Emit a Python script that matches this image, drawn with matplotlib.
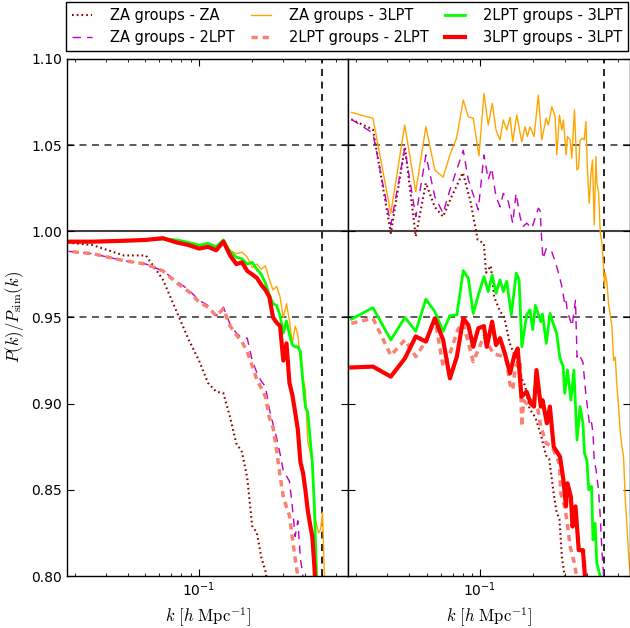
import matplotlib
matplotlib.use('Agg')
import matplotlib.pyplot as plt
import matplotlib.ticker as mticker

plt.rcParams['mathtext.fontset'] = 'cm'
plt.rcParams['lines.scale_dashes'] = False

# ---- left panel: k bins (h/Mpc) and ratios P(k)/P_sim(k) ----
k_left = [0.0126, 0.0251, 0.0377, 0.0503, 0.0628, 0.0754, 0.0880, 0.1005, 0.1131,
          0.1257, 0.1382, 0.1508, 0.1634, 0.1759, 0.1885, 0.2011, 0.2136, 0.2262,
          0.2388, 0.2513, 0.2639, 0.2765, 0.2890, 0.3016, 0.3142, 0.3267, 0.3393,
          0.3519, 0.3644, 0.3770, 0.3896, 0.4021, 0.4147, 0.4273, 0.4398, 0.4524,
          0.4650, 0.4775, 0.4901, 0.5027, 0.5152, 0.5278]

za_za_left = [0.995, 0.992, 0.986, 0.986, 0.972, 0.953, 0.937, 0.925, 0.912, 0.907,
              0.906, 0.892, 0.877, 0.872, 0.857, 0.829, 0.825, 0.811, 0.803, 0.790]
za_2lpt_left = [0.990, 0.987, 0.983, 0.981, 0.977, 0.971, 0.966, 0.960, 0.957, 0.951,
                0.956, 0.946, 0.941, 0.938, 0.938, 0.925, 0.918, 0.913, 0.910, 0.897,
                0.888, 0.880, 0.871, 0.861, 0.858, 0.855, 0.840, 0.823, 0.832, 0.810,
                0.800, 0.780]
za_3lpt_left = [0.994, 0.994, 0.9945, 0.995, 0.996, 0.995, 0.9935, 0.992, 0.993, 0.991,
                0.995, 0.989, 0.987, 0.988, 0.985, 0.979, 0.981, 0.978, 0.980, 0.972,
                0.966, 0.968, 0.962, 0.950, 0.958, 0.948, 0.935, 0.945, 0.940, 0.925,
                0.915, 0.908, 0.878, 0.872, 0.866, 0.835, 0.830, 0.825, 0.827, 0.837,
                0.800, 0.780]
lpt2_2lpt_left = [0.990, 0.987, 0.983, 0.981, 0.977, 0.970, 0.965, 0.959, 0.956, 0.951,
                  0.955, 0.945, 0.940, 0.936, 0.930, 0.922, 0.914, 0.909, 0.904, 0.892,
                  0.886, 0.873, 0.858, 0.846, 0.840, 0.835, 0.822, 0.810, 0.800, 0.780]
lpt2_3lpt_left = [0.994, 0.994, 0.9945, 0.995, 0.9955, 0.995, 0.9935, 0.992, 0.993, 0.991,
                  0.995, 0.988, 0.985, 0.984, 0.981, 0.982, 0.978, 0.975, 0.970, 0.963,
                  0.958, 0.957, 0.951, 0.941, 0.948, 0.940, 0.934, 0.933, 0.933, 0.930,
                  0.912, 0.898, 0.895, 0.880, 0.866, 0.840, 0.800, 0.770]
lpt3_3lpt_left = [0.994, 0.994, 0.9945, 0.995, 0.996, 0.9935, 0.992, 0.990, 0.991, 0.989,
                  0.994, 0.986, 0.981, 0.982, 0.977, 0.975, 0.973, 0.969, 0.966, 0.962,
                  0.950, 0.947, 0.945, 0.925, 0.935, 0.912, 0.905, 0.895, 0.885, 0.866,
                  0.860, 0.850, 0.838, 0.830, 0.823, 0.805, 0.780]

# ---- right panel: (k, ratio) read per curve ----
k_za_za_right = [0.0188, 0.0249, 0.0314, 0.0377, 0.0434, 0.0495, 0.0556, 0.0619, 0.069,
                 0.080, 0.088, 0.097, 0.105, 0.108, 0.115, 0.120, 0.129, 0.137, 0.147,
                 0.161, 0.171, 0.180, 0.190, 0.205, 0.220, 0.235, 0.245, 0.260, 0.270,
                 0.280, 0.290, 0.300, 0.310]
za_za_right = [1.065, 1.059, 0.999, 1.049, 0.997, 1.028, 1.014, 1.0085, 1.020,
               1.034, 1.018, 0.995, 0.993, 0.976, 0.980, 0.962, 0.954, 0.950, 0.935,
               0.925, 0.915, 0.910, 0.897, 0.892, 0.882, 0.870, 0.868, 0.848, 0.837,
               0.833, 0.810, 0.800, 0.780]

k_za_2lpt_right = [0.0188, 0.0249, 0.0314, 0.0376, 0.0434, 0.0495, 0.0556, 0.0619, 0.0676,
                   0.0804, 0.0858, 0.0977, 0.1052, 0.1112, 0.1162, 0.123, 0.1296, 0.1352,
                   0.1443, 0.1528, 0.1595, 0.168, 0.174, 0.1834, 0.1957, 0.2131, 0.218,
                   0.222, 0.226, 0.236, 0.252, 0.262, 0.271, 0.280, 0.289, 0.300, 0.305,
                   0.310, 0.330, 0.345, 0.352, 0.360, 0.380, 0.395, 0.415, 0.425, 0.433,
                   0.440, 0.450, 0.465, 0.475, 0.486, 0.497, 0.505]
za_2lpt_right = [1.065, 1.057, 1.0037, 1.048, 1.0085, 1.0443, 1.020, 1.0105, 1.024,
                 1.047, 1.030, 1.0124, 1.0443, 1.030, 1.0366, 1.020, 1.0143, 1.022,
                 1.0172, 1.0047, 1.022, 1.0085, 1.0027, 1.0047, 1.0018, 1.0134, 1.012,
                 0.997, 0.984, 0.990, 0.989, 0.984, 0.979, 0.974, 0.968, 0.958, 0.960,
                 0.954, 0.945, 0.960, 0.927, 0.929, 0.924, 0.905, 0.887, 0.889, 0.883,
                 0.867, 0.862, 0.850, 0.836, 0.815, 0.800, 0.780]

k_za_3lpt_right = [0.0188, 0.0249, 0.0314, 0.0376, 0.0434, 0.0495, 0.0556, 0.0619, 0.0676,
                   0.0737, 0.0804, 0.0858, 0.0915, 0.0986, 0.1052, 0.1112, 0.1172, 0.123,
                   0.1296, 0.1352, 0.1413, 0.1476, 0.1528, 0.161, 0.1717, 0.1793, 0.1847,
                   0.1913, 0.2016, 0.2131, 0.2228, 0.2356, 0.2428, 0.2537, 0.265, 0.2708,
                   0.280, 0.289, 0.295, 0.3056, 0.311, 0.3219, 0.329, 0.3405, 0.3513,
                   0.3587, 0.3667, 0.3778, 0.3863, 0.395, 0.4032, 0.4123, 0.4216, 0.4304,
                   0.440, 0.4498, 0.4558, 0.4653, 0.4756, 0.4863, 0.4966, 0.5028, 0.5077,
                   0.519, 0.530, 0.5537, 0.5656, 0.578, 0.591, 0.6035, 0.617, 0.631,
                   0.644, 0.6586, 0.673, 0.687, 0.703]
za_3lpt_right = [1.069, 1.0656, 1.0105, 1.0617, 1.023, 1.0607, 1.0356, 1.0314, 1.0443,
                 1.054, 1.0762, 1.0665, 1.0656, 1.0437, 1.080, 1.0617, 1.0743, 1.0588,
                 1.053, 1.0646, 1.0588, 1.0662, 1.052, 1.0675, 1.052, 1.0607, 1.055,
                 1.0607, 1.055, 1.0791, 1.053, 1.0656, 1.0617, 1.0723, 1.0665, 1.0443,
                 1.0675, 1.0588, 1.0646, 1.0443, 1.055, 1.053, 1.0424, 1.0704, 1.0356,
                 1.0366, 1.053, 1.054, 1.053, 1.0636, 1.0346, 1.0163, 1.0337, 1.0414,
                 1.0037, 1.0433, 1.0279, 1.023, 0.9998, 0.993, 0.9795, 0.968, 0.9757,
                 0.970, 0.958, 0.9447, 0.925, 0.927, 0.910, 0.898, 0.883, 0.875,
                 0.869, 0.844, 0.829, 0.813, 0.800]

k_lpt2_2lpt_right = [0.0188, 0.0249, 0.0314, 0.0377, 0.0434, 0.050, 0.0556, 0.0619, 0.0676,
                     0.075, 0.0804, 0.0915, 0.105, 0.119, 0.1352, 0.1408, 0.1476, 0.153,
                     0.158, 0.168, 0.172, 0.176, 0.183, 0.195, 0.212, 0.220, 0.236, 0.255,
                     0.280, 0.285, 0.300, 0.310, 0.322, 0.340, 0.350, 0.360]
lpt2_2lpt_right = [0.9466, 0.9495, 0.928, 0.937, 0.9273, 0.937, 0.9495, 0.9215, 0.929,
                   0.943, 0.9466, 0.9244, 0.939, 0.929, 0.9273, 0.925, 0.911, 0.908,
                   0.9215, 0.9254, 0.8867, 0.902, 0.900, 0.902, 0.8964, 0.8867, 0.877, 0.875,
                   0.8653, 0.848, 0.840, 0.8306, 0.817, 0.8074, 0.800, 0.780]

k_lpt2_3lpt_right = [0.0188, 0.0249, 0.0314, 0.0377, 0.0434, 0.0495, 0.0556, 0.0619, 0.0676,
                     0.074, 0.0804, 0.0858, 0.0915, 0.0977, 0.1052, 0.1112, 0.117, 0.123,
                     0.1296, 0.1352, 0.1413, 0.150, 0.160, 0.166, 0.172, 0.183, 0.191,
                     0.198, 0.205, 0.220, 0.225, 0.236, 0.248, 0.258, 0.270, 0.282, 0.294,
                     0.300, 0.311, 0.325, 0.338, 0.352, 0.366, 0.380, 0.388, 0.400, 0.410,
                     0.425, 0.433, 0.445, 0.455, 0.475, 0.480]
lpt2_3lpt_right = [0.949, 0.9557, 0.937, 0.950, 0.942, 0.9606, 0.9534, 0.942, 0.951,
                   0.9515, 0.9772, 0.9728, 0.9524, 0.963, 0.9737, 0.965, 0.9747, 0.964,
                   0.9718, 0.965, 0.971, 0.9515, 0.9757, 0.9718, 0.933, 0.9515, 0.9544,
                   0.943, 0.957, 0.9476, 0.952, 0.935, 0.9524, 0.9466, 0.941, 0.9263, 0.9215,
                   0.906, 0.9195, 0.902, 0.9195, 0.8789, 0.8983, 0.8886, 0.8712, 0.867, 0.850,
                   0.852, 0.821, 0.8306, 0.8074, 0.800, 0.780]

k_lpt3_3lpt_right = [0.0188, 0.0249, 0.0314, 0.0377, 0.0434, 0.0495, 0.0556, 0.0619, 0.0676,
                     0.074, 0.0804, 0.0858, 0.0915, 0.0977, 0.1052, 0.109, 0.117, 0.123,
                     0.1296, 0.138, 0.1476, 0.156, 0.163, 0.171, 0.183, 0.193, 0.2015,
                     0.208, 0.220, 0.225, 0.238, 0.2475, 0.260, 0.282, 0.295, 0.305, 0.311,
                     0.325, 0.332, 0.345, 0.360, 0.380, 0.390, 0.400]
lpt3_3lpt_right = [0.921, 0.9215, 0.9157, 0.9263, 0.939, 0.936, 0.9495, 0.937, 0.9147,
                   0.9273, 0.9495, 0.9457, 0.933, 0.9437, 0.945, 0.933, 0.9476, 0.934,
                   0.938, 0.929, 0.9176, 0.928, 0.932, 0.904, 0.907, 0.900, 0.8983,
                   0.9195, 0.8983, 0.902, 0.8886, 0.8983, 0.875, 0.8693, 0.8557, 0.8404, 0.8538,
                   0.846, 0.8287, 0.8404, 0.815, 0.815, 0.800, 0.780]

labels = ['ZA groups - ZA', 'ZA groups - 2LPT', 'ZA groups - 3LPT',
          '2LPT groups - 2LPT', '2LPT groups - 3LPT', '3LPT groups - 3LPT']
styles = [
    dict(color='darkred', ls=(0, (1.2, 2.2)), lw=1.5),
    dict(color='#bf00bf', ls=(0, (6, 4.5)), lw=1),
    dict(color='orange', ls='-', lw=1),
    dict(color='salmon', ls=(0, (4.5, 3.5)), lw=2.5),
    dict(color='#00ff00', ls='-', lw=2),
    dict(color='red', ls='-', lw=3),
]

left_data = [(k_left, za_za_left), (k_left, za_2lpt_left), (k_left, za_3lpt_left),
             (k_left, lpt2_2lpt_left), (k_left, lpt2_3lpt_left), (k_left, lpt3_3lpt_left)]
right_data = [(k_za_za_right, za_za_right), (k_za_2lpt_right, za_2lpt_right),
              (k_za_3lpt_right, za_3lpt_right), (k_lpt2_2lpt_right, lpt2_2lpt_right),
              (k_lpt2_3lpt_right, lpt2_3lpt_right), (k_lpt3_3lpt_right, lpt3_3lpt_right)]

fig = plt.figure(figsize=(6.3, 6.28), dpi=100)
ax1 = fig.add_axes([0.1063, 0.0828, 0.4460, 0.8233])
ax2 = fig.add_axes([0.5523, 0.0828, 0.4477, 0.8233], sharey=ax1)

handles = []
for ax, data in [(ax1, left_data), (ax2, right_data)]:
    ax.axhline(1.0, color='0.25', lw=1.5, zorder=1)
    ax.axhline(1.05, color='0.25', ls=(0, (5, 4)), lw=1.2, zorder=1)
    ax.axhline(0.95, color='0.25', ls=(0, (5, 4)), lw=1.2, zorder=1)
    ax.axvline(0.5, color='k', ls=(0, (5, 4)), lw=1.2, zorder=1)
    hs = []
    for (k, v), st, lab in zip(data, styles, labels):
        h, = ax.plot(k[:len(v)], v, label=lab, **st)
        hs.append(h)
    if ax is ax1:
        handles = hs
    ax.set_xscale('log')
    ax.set_xlim(0.018, 0.7)
    ax.set_ylim(0.80, 1.10)
    ax.tick_params(which='both', direction='in', top=True, right=True, labelsize=10)
    ax.tick_params(which='major', length=5)
    ax.tick_params(which='minor', length=2.5)
    ax.set_xlabel(r'$k\ [h\ \mathrm{Mpc}^{-1}]$', fontsize=12)
    for sp in ax.spines.values():
        sp.set_color('k')
        sp.set_linewidth(1)

ax1.set_yticks([0.80, 0.85, 0.90, 0.95, 1.00, 1.05, 1.10])
ax1.yaxis.set_major_formatter(mticker.FormatStrFormatter('%.2f'))
ax1.set_ylabel(r'$P(k)/P_{\rm sim}(k)$', fontsize=12)
ax2.tick_params(labelleft=False)

fig.legend(handles, labels, loc='upper left', bbox_to_anchor=(0.1048, 0.92, 0.892, 0.0768),
           mode='expand', ncol=3, fontsize=10.5, frameon=True, fancybox=False,
           edgecolor='k', framealpha=1, handlelength=1.4, handletextpad=1.2,
           borderaxespad=0)

fig.savefig('out.png', dpi=100)
